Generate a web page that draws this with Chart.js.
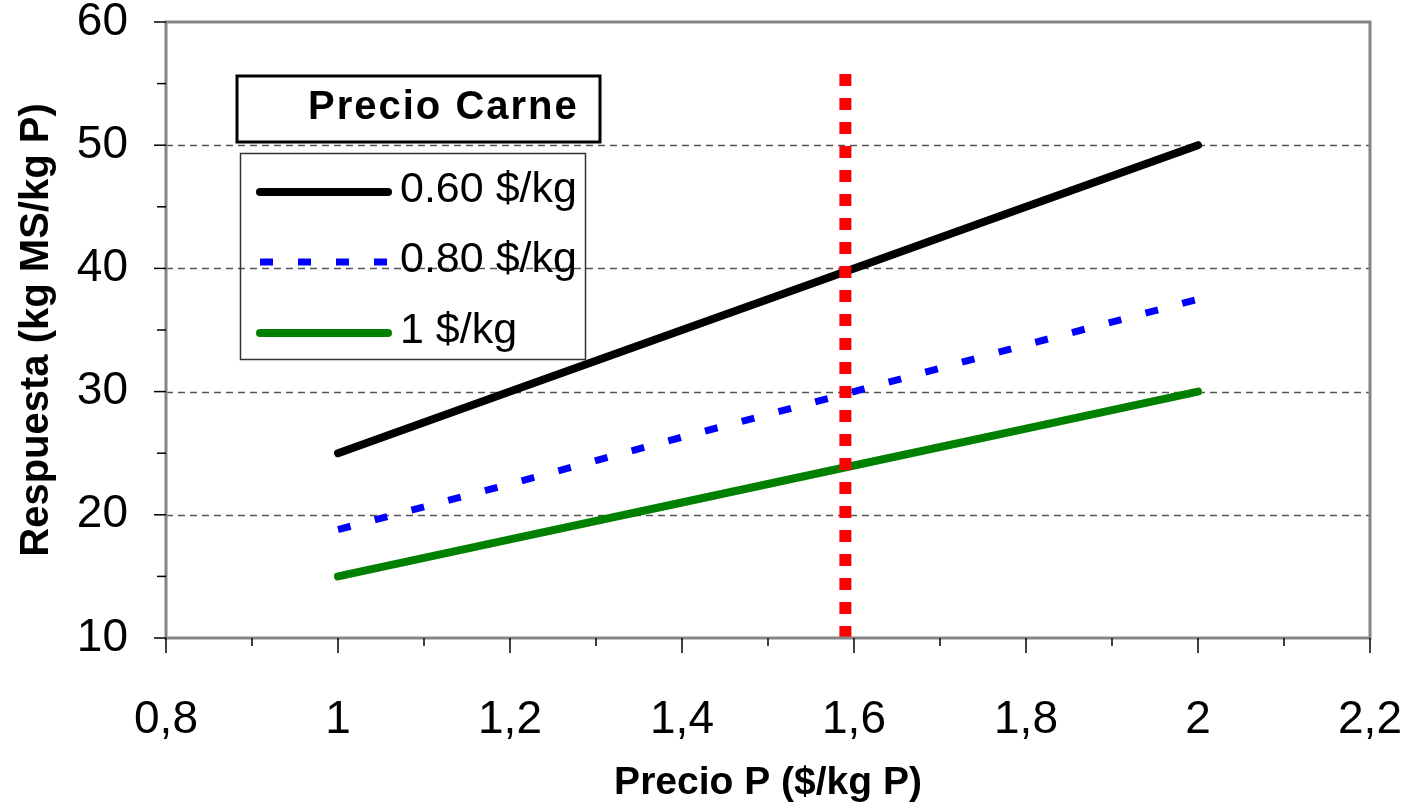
<!DOCTYPE html>
<html>
<head>
<meta charset="utf-8">
<script src="https://cdn.jsdelivr.net/npm/chart.js@4.4.1/dist/chart.umd.min.js"></script>
<style>
  html, body { margin: 0; padding: 0; background: #fff; }
  canvas { display: block; }
</style>
</head>
<body>
<canvas id="chart" width="1410" height="809"></canvas>
<script>
// Values
const precioP = [1, 1.2, 1.4, 1.6, 1.8, 2];
const resp060 = [25, 30, 35, 40, 45, 50];
const resp080 = [18.8, 22.5, 26.3, 30, 33.8, 37.5];
const resp100 = [15, 18, 21, 24, 27, 30];
const seriesLabels = ['0.60 $/kg', '0.80 $/kg', '1 $/kg'];
const legendTitle = 'Precio Carne';

// red vertical reference line
const optimoX = [1.59, 1.59];
const optimoY = [10, 56];

const xTicks = [0.8, 1, 1.2, 1.4, 1.6, 1.8, 2, 2.2];
const xTickLabels = ['0,8', '1', '1,2', '1,4', '1,6', '1,8', '2', '2,2'];
const yTicks = [10, 20, 30, 40, 50, 60];
const yTickLabels = ['10', '20', '30', '40', '50', '60'];

const FONT = "'Liberation Sans', Arial, sans-serif";

const toPoints = (xs, ys) => xs.map((x, i) => ({ x: x, y: ys[i] }));

// midpoints between major ticks -> minor tick marks
const minors = arr => arr.slice(1).map((v, i) => (v + arr[i]) / 2);

// Frame, grid, tick marks and the boxed legend
const decorPlugin = {
    id: 'decor',
    beforeDatasetsDraw(chart) {
        const { ctx, chartArea: a, scales: { y } } = chart;
        ctx.save();
        ctx.strokeStyle = '#555';
        ctx.lineWidth = 1.3;
        ctx.setLineDash([7, 5]);
        yTicks.slice(1, -1).forEach(v => {
            const py = Math.round(y.getPixelForValue(v)) + 0.5;
            ctx.beginPath();
            ctx.moveTo(a.left, py);
            ctx.lineTo(a.right, py);
            ctx.stroke();
        });
        ctx.restore();
    },
    afterDatasetsDraw(chart) {
        const { ctx, chartArea: a, scales: { x, y } } = chart;
        ctx.save();

        // plot frame
        ctx.strokeStyle = '#858585';
        ctx.lineWidth = 3;
        ctx.strokeRect(a.left, a.top, a.right - a.left, a.bottom - a.top);

        // tick marks
        ctx.strokeStyle = '#000';
        ctx.lineWidth = 1.5;
        const tick = (x1, y1, x2, y2) => {
            ctx.beginPath();
            ctx.moveTo(x1, y1);
            ctx.lineTo(x2, y2);
            ctx.stroke();
        };
        yTicks.forEach(v => { const p = y.getPixelForValue(v); tick(a.left - 12, p, a.left, p); });
        minors(yTicks).forEach(v => { const p = y.getPixelForValue(v); tick(a.left - 9, p, a.left, p); });
        xTicks.forEach(v => { const p = x.getPixelForValue(v); tick(p, a.bottom, p, a.bottom + 15); });
        minors(xTicks).forEach(v => { const p = x.getPixelForValue(v); tick(p, a.bottom, p, a.bottom + 8); });

        // legend title box
        ctx.lineWidth = 3;
        ctx.strokeStyle = '#000';
        ctx.strokeRect(237, 76, 363, 66);
        ctx.fillStyle = '#000';
        ctx.font = 'bold 40px ' + FONT;
        ctx.textBaseline = 'middle';
        ctx.textAlign = 'left';
        ctx.letterSpacing = '2px';
        ctx.fillText(legendTitle, 308, 108);
        ctx.letterSpacing = '0px';

        // legend entries box
        ctx.lineWidth = 1.5;
        ctx.strokeStyle = '#333';
        ctx.strokeRect(240.5, 153.5, 345, 206);

        const rows = [192, 262, 333];
        ctx.font = '43px ' + FONT;
        chart.data.datasets.slice(1).forEach((ds, i) => {
            ctx.save();
            ctx.strokeStyle = ds.borderColor;
            ctx.lineWidth = ds.borderWidth;
            ctx.lineCap = ds.borderCapStyle || 'butt';
            ctx.setLineDash(ds.borderDash || []);
            ctx.beginPath();
            ctx.moveTo(260, rows[i]);
            ctx.lineTo(388, rows[i]);
            ctx.stroke();
            ctx.restore();
            ctx.fillText(ds.label, 400, rows[i] - 2);
        });

        ctx.restore();
    }
};

const chart = new Chart(document.getElementById('chart'), {
    type: 'line',
    data: {
        datasets: [
            {
                label: 'P optimo',
                data: toPoints(optimoX, optimoY),
                borderColor: '#ff0000',
                borderWidth: 12,
                borderDash: [12, 12],
                pointRadius: 0
            },
            {
                label: seriesLabels[0],
                data: toPoints(precioP, resp060),
                borderColor: '#000000',
                borderWidth: 8,
                borderCapStyle: 'round',
                pointRadius: 0
            },
            {
                label: seriesLabels[1],
                data: toPoints(precioP, resp080),
                borderColor: '#0000ff',
                borderWidth: 7,
                borderDash: [13, 25],
                pointRadius: 0
            },
            {
                label: seriesLabels[2],
                data: toPoints(precioP, resp100),
                borderColor: '#008000',
                borderWidth: 8,
                borderCapStyle: 'round',
                pointRadius: 0
            }
        ]
    },
    options: {
        responsive: false,
        animation: false,
        devicePixelRatio: 1,
        layout: { padding: { top: 22, right: 40, left: 0, bottom: 0 } },
        plugins: {
            legend: { display: false },
            tooltip: { enabled: false }
        },
        scales: {
            x: {
                type: 'linear',
                min: 0.8,
                max: 2.2,
                grid: { display: false, drawTicks: false },
                border: { display: false },
                afterBuildTicks: s => { s.ticks = xTicks.map(v => ({ value: v })); },
                ticks: {
                    color: '#000',
                    padding: 55,
                    maxRotation: 0,
                    autoSkip: false,
                    font: { family: FONT, size: 46 },
                    callback: (v, i) => xTickLabels[i]
                },
                title: {
                    display: true,
                    text: 'Precio P ($/kg P)',
                    color: '#000',
                    font: { family: FONT, size: 39, weight: 'bold' },
                    padding: { top: 0, bottom: 2 }
                },
                afterFit: s => {
                    s.height = 171;
                    s.paddingLeft = 0;
                    s.paddingRight = 0;
                }
            },
            y: {
                min: 10,
                max: 60,
                grid: { display: false, drawTicks: false },
                border: { display: false },
                afterBuildTicks: s => { s.ticks = yTicks.map(v => ({ value: v })); },
                ticks: {
                    color: '#000',
                    padding: 38,
                    autoSkip: false,
                    font: { family: FONT, size: 46 },
                    callback: (v, i) => yTickLabels[i]
                },
                title: {
                    display: true,
                    text: 'Respuesta (kg MS/kg P)',
                    color: '#000',
                    font: { family: FONT, size: 40, weight: 'bold' },
                    padding: { top: 13, bottom: 0 }
                },
                afterFit: s => {
                    s.width = 166;
                    s.paddingTop = 0;
                    s.paddingBottom = 0;
                }
            }
        }
    },
    plugins: [decorPlugin]
});
</script>
</body>
</html>
